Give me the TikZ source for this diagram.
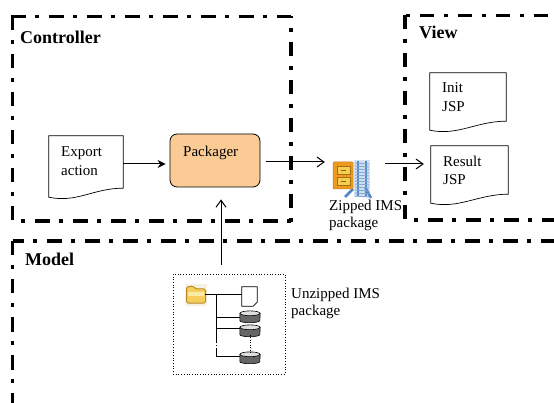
\documentclass[tikz,border=0pt]{standalone}
\usepackage{fontspec}
\setmainfont{Liberation Serif}
\usetikzlibrary{arrows.meta}
\definecolor{packagerfill}{HTML}{FBCB96}
\definecolor{folderfill}{HTML}{F5CE5E}
\definecolor{folderlight}{HTML}{FCEBA8}
\definecolor{folderedge}{HTML}{BE8A22}
\definecolor{folderhalo}{HTML}{F6F0E4}
\definecolor{zipblue}{HTML}{4F86C6}
\definecolor{ziporange}{HTML}{EE9A1E}
\definecolor{zipyellow}{HTML}{F6D04D}
\tikzset{
    layerbox/.style={line width=3.4pt,dash pattern=on 14.5pt off 9.5pt on 4pt off 10pt,dash phase=#1},
    layerbox/.default=0pt,
    layertitle/.style={anchor=base west,inner sep=0pt,font=\fontsize{18}{20}\selectfont\bfseries},
    doclabel/.style={align=left,anchor=north west,inner sep=0pt,font=\fontsize{15}{18.5}\selectfont},
    docbox/.style={inner sep=0pt,minimum width=#1},
    flow/.style={->,line width=1pt,>={Straight Barb[length=7pt,width=10pt]}},
    tree/.style={line width=0.8pt},
    cylbody/.style={draw=black,line width=0.6pt,fill=gray!80!black}
}
\newcommand{\docoutline}[1]{
    \draw[line width=0.7pt] (#1.north west) -- (#1.north east) -- ([yshift=9pt]#1.south east)
        .. controls +(-30,0) and +(28,6) .. (#1.south west) -- cycle;
}
\newcommand{\cylinder}[2]{
    \node[minimum width=20pt,minimum height=7pt,inner sep=0pt] (#1) at (#2) {};
    \fill[cylbody] (#1.north west) -- (#1.south west) arc[start angle=180,end angle=360,x radius=10pt,y radius=2pt]
        -- (#1.north east) -- cycle;
    \draw[line width=0.6pt,fill=gray!25] (#1.north) ellipse[x radius=10pt,y radius=2.4pt];
}
\begin{document}
\begin{tikzpicture}[x=1pt,y=-1pt]
    \useasboundingbox (0,0) rectangle (554,403);
    \clip (0,0) rectangle (554,403);
    % layers
    \draw[layerbox] (11,16.5) -- (291,16.5);
    \draw[layerbox] (12.5,16) -- (12.5,222);
    \draw[layerbox=12.5pt] (291,16.5) -- (291,222);
    \draw[layerbox=15.5pt] (12.5,221) -- (291,221);
    \draw[layerbox] (405,15) -- (405,220);
    \draw[layerbox=23.5pt] (405,15.5) -- (560,15.5);
    \draw[layerbox=15pt] (405,220) -- (560,220);
    \draw[layerbox] (12.5,241) -- (12.5,404);
    \draw[layerbox=3.5pt] (12.5,241) -- (560,241);
    \draw[layerbox=12.5pt] (12.5,404.5) -- (560,404.5);
    \node[layertitle] (controller) at (20,44) {Controller};
    \node[layertitle] (view) at (419,39) {View};
    \node[layertitle] (model) at (25,266) {Model};
    % documents
    \node[docbox=74pt,minimum height=61pt] (export) at (86,166.5) {};
    \docoutline{export}
    \node[doclabel] (exportlabel) at (61,146.5) {Export\\action};
    \node[docbox=76pt,minimum height=57pt] (init) at (468,101.5) {};
    \docoutline{init}
    \node[doclabel] (initlabel) at (442,82.5) {Init\\JSP};
    \node[docbox=77pt,minimum height=57pt] (result) at (469.5,174.5) {};
    \docoutline{result}
    \node[doclabel] (resultlabel) at (443,155.5) {Result\\JSP};
    % packager
    \node[draw=black,line width=0.8pt,fill=packagerfill,rounded corners=7pt,minimum width=90pt,minimum height=53pt,inner sep=0pt] (packager) at (215,160.5) {};
    \node[doclabel,anchor=base west] (packagerlabel) at (183,157) {Packager};
    % zip icon
    \node[minimum width=40pt,minimum height=40pt,inner sep=0pt] (zip) at (352,180) {};
    \fill[zipblue!25!white] (354,160) rectangle (370,197);
    \draw[line width=2.5pt,zipblue] (353,189) -- (345,197);
    \draw[line width=2.5pt,zipblue] (365,187) -- (371,198);
    \draw[line width=2pt,zipblue] (358,161) -- (358,196);
    \draw[line width=2pt,zipblue] (366,161) -- (366,196);
    \foreach \y in {163,166,...,196}
        \draw[line width=1pt,zipblue!70!white] (355,\y) -- (369,\y+1);
    \draw[fill=ziporange,draw=ziporange!80!black,line width=0.5pt,rounded corners=1pt] (333,162) rectangle (353,189);
    \draw[fill=zipyellow,draw=ziporange!70!black,line width=0.7pt] (337,166) rectangle (350,174.5);
    \draw[fill=zipyellow,draw=ziporange!70!black,line width=0.7pt] (337,177) rectangle (350,185.5);
    \draw[line width=0.9pt,ziporange!60!black] (341,170) -- (346,170) (341,181) -- (346,181);
    \node[doclabel,font=\fontsize{15}{17}\selectfont] (ziplabel) at (329,199.5) {Zipped IMS\\package};
    % unzipped tree
    \node[draw=black,line width=0.7pt,dotted,minimum width=112pt,minimum height=100pt,inner sep=0pt] (unzipped) at (229,324) {};
    \node[doclabel,font=\fontsize{15}{17}\selectfont] (unzippedlabel) at (291,287.5) {Unzipped IMS\\package};
    \node[inner sep=0pt,minimum width=19pt,minimum height=17pt] (folder) at (195.5,294) {};
    \fill[folderhalo] (184.5,284) rectangle (207,306);
    \fill[folderfill,draw=folderedge,line width=1pt,rounded corners=1.5pt] (186.5,287) -- (193,286) -- (196,289) -- (205.5,289) -- (205.5,303) -- (186.5,303) -- cycle;
    \fill[folderlight] (188,292.5) rectangle (204,296.5);
    \node[inner sep=0pt,minimum width=15pt,minimum height=19pt] (file) at (249.5,296.5) {};
    \draw[line width=0.8pt] (file.north west) -- (file.north east) -- ([yshift=4pt]file.south east) -- ([xshift=-4pt]file.south east) -- (file.south west) -- cycle;
    \cylinder{cyla}{250,317}
    \cylinder{cylb}{250,331}
    \cylinder{cylc}{250,358}
    \coordinate (trunk) at (216,294);
    \draw[tree] (folder.east) -- ([yshift=2.5pt]file.west);
    \draw[tree] (trunk) -- (216,342);
    \draw[tree,dotted] (216,342) -- (216,348);
    \draw[tree] (216,348) -- (216,356) -- ([yshift=2pt]cylc.west);
    \draw[tree] (216,317) -- (cyla.west);
    \draw[tree] (216,328) -- ([yshift=3pt]cylb.west);
    \draw[line width=0.5pt,dotted] (cylb.south) -- (cylc.north);
    % flows
    \draw[->,line width=1pt,>={Stealth[length=8pt,width=8pt]}] ([yshift=2.5pt]export.east) -- ([xshift=-4pt,yshift=-3.5pt]packager.west);
    \draw[flow] ([xshift=6pt,yshift=-1.5pt]packager.east) -- ([xshift=-7pt,yshift=18pt]zip.west);
    \draw[flow] ([xshift=13pt,yshift=16pt]zip.east) -- ([xshift=-7pt,yshift=10.5pt]result.west);
    \draw[flow] ([xshift=-8pt,yshift=9pt]unzipped.north) -- ([xshift=6pt,yshift=-12pt]packager.south);
\end{tikzpicture}
\end{document}
